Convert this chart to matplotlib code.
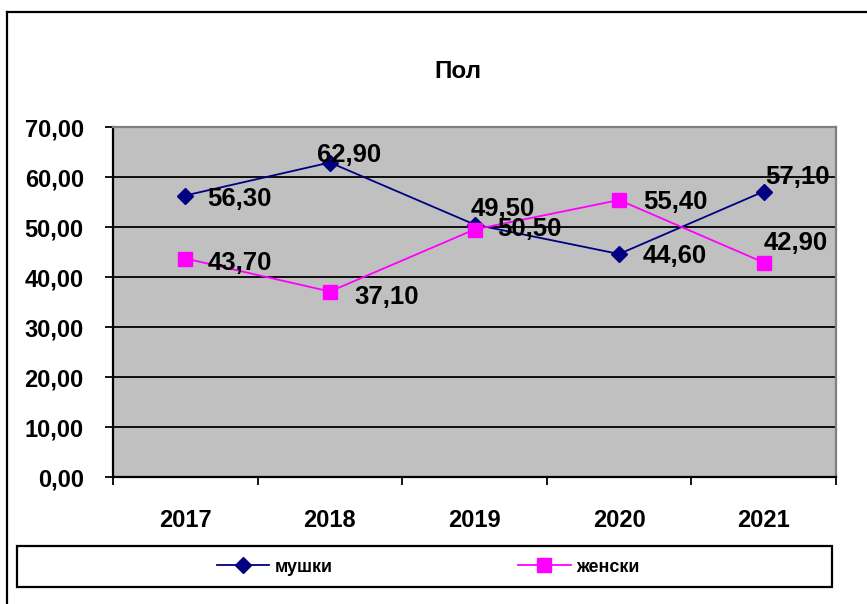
import matplotlib
matplotlib.use("Agg")
import matplotlib.pyplot as plt
from matplotlib.patches import Rectangle
from matplotlib.lines import Line2D

years = ["2017", "2018", "2019", "2020", "2021"]
male = [56.30, 62.90, 50.50, 44.60, 57.10]
female = [43.70, 37.10, 49.50, 55.40, 42.90]
series_names = ["мушки", "женски"]
title = "Пол"
yticks = [0, 10, 20, 30, 40, 50, 60, 70]

# label offsets in pixels (dx, dy) relative to the point
male_off = [(54, -4), (19, 8), (55, -5), (56, -2), (34, 15)]
female_off = [(55, -5), (57, -5), (28, 20), (56, -2), (32, 20)]

plt.rcParams['font.family'] = ['Liberation Sans', 'DejaVu Sans']

W, H = 867, 604
fig = plt.figure(figsize=(W / 100, H / 100), dpi=100)

def fx(px):
    return px / W

def fy(py):
    return 1 - py / H

# outer chart frame (cut off at right and bottom)
fig.add_artist(Line2D([fx(7), fx(7)], [fy(12), fy(700)], color="black", lw=1.6, transform=fig.transFigure))
fig.add_artist(Line2D([fx(7), fx(900)], [fy(12), fy(12)], color="black", lw=1.6, transform=fig.transFigure))

left, right, top, bottom = 113, 836, 127, 477
ax = fig.add_axes([fx(left), fy(bottom), fx(right - left), (bottom - top) / H])
ax.set_facecolor("#C0C0C0")

x = list(range(len(years)))
ax.set_xlim(-0.5, len(years) - 0.5)
ax.set_ylim(0, 70)

for yv in yticks[1:]:
    ax.axhline(yv, color="black", lw=1.3, zorder=1)

ax.plot(x, male, color="#000080", lw=1.3, marker="D", markersize=8.5, zorder=3, label=series_names[0])
ax.plot(x, female, color="#FF00FF", lw=1.3, marker="s", markersize=10.5, zorder=3, label=series_names[1])

for i, v in enumerate(male):
    ax.annotate(f"{v:.2f}".replace(".", ","), (x[i], v), xytext=male_off[i], textcoords="offset pixels",
                ha="center", va="center", fontsize=18.5, fontweight="bold", zorder=5)
for i, v in enumerate(female):
    ax.annotate(f"{v:.2f}".replace(".", ","), (x[i], v), xytext=female_off[i], textcoords="offset pixels",
                ha="center", va="center", fontsize=18.5, fontweight="bold", zorder=5)

ax.set_yticks(yticks)
ax.set_yticklabels([f"{v:.2f}".replace(".", ",") for v in yticks], fontsize=17, fontweight="bold")
ax.tick_params(axis="y", direction="out", length=6, width=1.3, pad=15)

ax.set_xticks([i - 0.5 for i in range(len(years) + 1)])
ax.set_xticklabels([])
ax.tick_params(axis="x", which="major", direction="out", length=6, width=1.3)
ax.set_xticks(x, minor=True)
ax.set_xticklabels(years, minor=True, fontsize=17, fontweight="bold")
ax.tick_params(axis="x", which="minor", length=0, pad=23)

ax.spines["left"].set_linewidth(1.6)
ax.spines["bottom"].set_linewidth(1.6)
ax.spines["top"].set_color("#808080")
ax.spines["right"].set_color("#808080")
ax.spines["top"].set_linewidth(1.6)
ax.spines["right"].set_linewidth(1.6)

fig.text(fx(458), fy(71), title, ha="center", va="center", fontsize=17.5, fontweight="bold")

# legend box
fig.add_artist(Rectangle((fx(17), fy(587)), fx(832 - 17), (587 - 546) / H, transform=fig.transFigure,
                         fill=False, edgecolor="black", lw=1.6))
leg = fig.legend(loc="center", bbox_to_anchor=(fx(428), fy(567)), ncol=2, frameon=False,
                 prop={"size": 13, "weight": "bold"}, handlelength=2.9, handletextpad=0.3,
                 columnspacing=10.3)

fig.savefig("out.png", dpi=100)
